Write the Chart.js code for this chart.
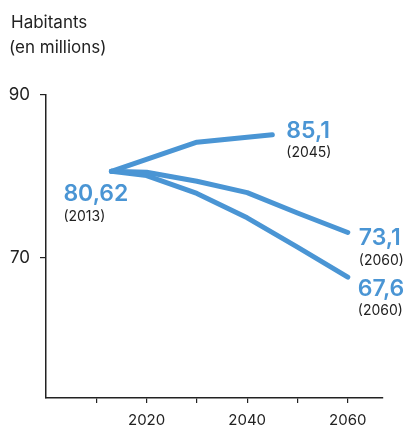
<!DOCTYPE html>
<html>
<head>
<meta charset="utf-8">
<script src="https://cdn.jsdelivr.net/npm/chart.js@4/dist/chart.umd.min.js"></script>
<style>
  html, body { margin: 0; padding: 0; background: #fff; }
  #wrap { width: 408px; height: 428px; }
</style>
</head>
<body>
<div id="wrap"><canvas id="popChart"></canvas></div>
<script>
// Population projections (millions)
const yearsHigh = [2013, 2030, 2045];
const valuesHigh = [80.62, 84.2, 85.1];
const yearsProj = [2013, 2020, 2030, 2040, 2050, 2060];
const valuesMid = [80.62, 80.5, 79.4, 78.0, 75.5, 73.1];
const valuesLow = [80.62, 80.1, 77.9, 74.9, 71.3, 67.6];

const yTickValues = [70, 90];
const xTickValues = [2010, 2020, 2030, 2040, 2050, 2060];
const xLabelYears = [2020, 2040, 2060];

const titleLines = ["Habitants", "(en millions)"];

// value labels: dataset index, point index, big text, small text, offsets
const pointLabels = [
  { ds: 0, idx: 0, text: "80,62", sub: "(2013)", dx: -48, dy: 23 },
  { ds: 0, idx: 2, text: "85,1", sub: "(2045)", dx: 14, dy: -4 },
  { ds: 1, idx: 5, text: "73,1", sub: "(2060)", dx: 11, dy: 6 },
  { ds: 2, idx: 5, text: "67,6", sub: "(2060)", dx: 10, dy: 12 }
];

const BLUE = "#4a95d4";
const INK = "#222";
const FONT = "Inter, 'Liberation Sans', Arial, sans-serif";

function toPoints(xs, ys) {
  return xs.map((x, i) => ({ x: x, y: ys[i] }));
}

function lineSet(points) {
  return {
    data: points,
    borderColor: BLUE,
    borderWidth: 5,
    borderCapStyle: "round",
    borderJoinStyle: "round",
    pointRadius: 0,
    tension: 0,
    fill: false,
    clip: false
  };
}

// Title and end-point labels
const annotate = {
  id: "annotate",
  afterDatasetsDraw(chart) {
    const ctx = chart.ctx;
    ctx.save();
    ctx.textAlign = "left";
    ctx.textBaseline = "middle";
    ctx.fillStyle = INK;
    ctx.font = "17px " + FONT;
    ctx.fillText(titleLines[0], 11, 22.5);
    ctx.fillText(titleLines[1], 9, 48);

    pointLabels.forEach(function (l) {
      const pt = chart.getDatasetMeta(l.ds).data[l.idx];
      const x = pt.x + l.dx;
      const y = pt.y + l.dy;
      ctx.fillStyle = BLUE;
      ctx.font = "600 23px " + FONT;
      ctx.fillText(l.text, x, y);
      ctx.fillStyle = INK;
      ctx.font = "14px " + FONT;
      ctx.fillText(l.sub, x, y + 22);
    });
    ctx.restore();
  }
};

new Chart(document.getElementById("popChart"), {
  type: "line",
  data: {
    datasets: [
      lineSet(toPoints(yearsHigh, valuesHigh)),
      lineSet(toPoints(yearsProj, valuesMid)),
      lineSet(toPoints(yearsProj, valuesLow))
    ]
  },
  options: {
    responsive: true,
    maintainAspectRatio: false,
    animation: false,
    layout: { padding: { top: 95, right: 25, bottom: 0, left: 0 } },
    plugins: {
      legend: { display: false },
      tooltip: { enabled: false }
    },
    scales: {
      x: {
        type: "linear",
        min: 2000,
        max: 2067,
        afterBuildTicks(scale) {
          scale.ticks = xTickValues.map(v => ({ value: v }));
        },
        afterFit(scale) { scale.height = 30; },
        border: { display: true, color: INK, width: 1.5 },
        grid: { drawOnChartArea: false, drawTicks: true, tickLength: 5, color: INK, lineWidth: 1.2 },
        ticks: {
          autoSkip: false,
          maxRotation: 0,
          padding: 8,
          color: INK,
          font: { family: FONT, size: 15 },
          callback: v => (xLabelYears.includes(v) ? String(v) : "")
        }
      },
      y: {
        min: 52.75,
        max: 90,
        afterBuildTicks(scale) {
          scale.ticks = yTickValues.map(v => ({ value: v }));
        },
        afterFit(scale) { scale.width = 46; },
        border: { display: true, color: INK, width: 1.5 },
        grid: { drawOnChartArea: false, drawTicks: true, tickLength: 6, color: INK, lineWidth: 1.2 },
        ticks: {
          padding: 10,
          color: INK,
          font: { family: FONT, size: 17 }
        }
      }
    }
  },
  plugins: [annotate]
});
</script>
</body>
</html>
